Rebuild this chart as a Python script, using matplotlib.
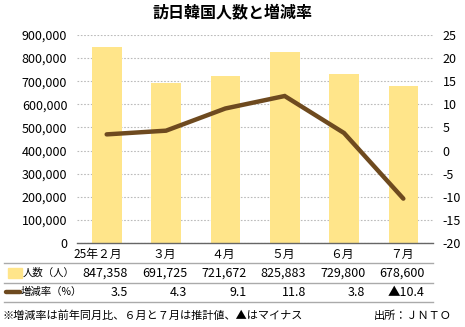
import matplotlib
matplotlib.use("Agg")
import matplotlib.pyplot as plt
import matplotlib.transforms as mtrans
from matplotlib.patches import Rectangle
from matplotlib.lines import Line2D
import numpy as np

categories = ["25年２月", "３月", "４月", "５月", "６月", "７月"]
visitors = [847358, 691725, 721672, 825883, 729800, 678600]
rates = [3.5, 4.3, 9.1, 11.8, 3.8, -10.4]
visitor_labels = ["847,358", "691,725", "721,672", "825,883", "729,800", "678,600"]
rate_labels = ["3.5", "4.3", "9.1", "11.8", "3.8", "▲10.4"]
left_ticks = [0, 100000, 200000, 300000, 400000, 500000, 600000, 700000, 800000, 900000]
right_ticks = [-20, -15, -10, -5, 0, 5, 10, 15, 20, 25]

NUMF = ["Noto Sans CJK JP", "DejaVu Sans"]
JPF = ["Noto Sans CJK JP", "DejaVu Sans"]
plt.rcParams['font.family'] = NUMF

BAR = "#FFE58A"
LINE = "#6E4A1F"
W, H = 465, 327
fig = plt.figure(figsize=(W / 100, H / 100), dpi=100)

def fx(px):
    return px / W

def fy(py):
    return 1 - py / H

ax = fig.add_axes([fx(77), fy(243), fx(433) - fx(77), fy(35) - fy(243)])
x = np.arange(len(categories))
ax.bar(x, visitors, width=0.5, color=BAR, zorder=2)
ax.set_xlim(-0.5, len(categories) - 0.5)
ax.set_ylim(0, 900000)
ax.set_yticks(left_ticks)
ax.set_yticklabels([f"{v:,}" for v in left_ticks], fontsize=9, family=NUMF)
ax.set_xticks([])
ax.tick_params(axis='y', length=0, pad=7)
for s in ["top", "right", "left"]:
    ax.spines[s].set_visible(False)
ax.spines["bottom"].set_color("#666666")
ax.spines["bottom"].set_linewidth(1.0)
ax.grid(axis='y', color="#BBBBBB", linestyle=(0, (1.5, 1.5)), linewidth=0.8, zorder=0)
ax.set_axisbelow(True)

ax2 = ax.twinx()
ax2.plot(x, rates, color=LINE, linewidth=3.2, solid_capstyle='round', solid_joinstyle='miter', zorder=5)
ax2.set_ylim(-20, 25)
ax2.set_yticks(right_ticks)
ax2.set_yticklabels([str(v) for v in right_ticks], fontsize=9, family=NUMF)
ax2.tick_params(axis='y', length=0, pad=7)
for s in ["top", "right", "left", "bottom"]:
    ax2.spines[s].set_visible(False)

fig.text(0.5, fy(13), "訪日韓国人数と増減率", ha='center', va='center', fontsize=11.5,
         fontweight='bold', family=JPF)

# table below
bt = mtrans.blended_transform_factory(ax.transData, fig.transFigure)
for i, c in enumerate(categories):
    off = -0.15 if i == 0 else -0.03
    fig.text(i + off, fy(254), c, transform=bt, ha='center', va='center', fontsize=8.5, family=NUMF)
    fig.text(i + 0.36, fy(273), visitor_labels[i], transform=bt, ha='right', va='center',
             fontsize=9, family=NUMF)
    fig.text(i + 0.36, fy(292), rate_labels[i], transform=bt, ha='right', va='center',
             fontsize=9, family=NUMF)

for py in [263, 282.5, 302]:
    fig.add_artist(Line2D([fx(4), fx(433)], [fy(py), fy(py)], color="#AAAAAA", linewidth=1.0))

fig.add_artist(Rectangle((fx(8), fy(278)), fx(22) - fx(8), fy(268) - fy(278), color=BAR,
                         transform=fig.transFigure))
fig.add_artist(Line2D([fx(6), fx(20)], [fy(292), fy(292)], color=LINE, linewidth=3.2,
                      solid_capstyle='round'))
fig.text(fx(23), fy(273), "人数（人）", ha='left', va='center', fontsize=7.5, family=JPF)
fig.text(fx(21), fy(292), "増減率（%）", ha='left', va='center', fontsize=7.5, family=JPF)

fig.text(fx(2), fy(316), "※増減率は前年同月比、６月と７月は推計値、▲はマイナス", ha='left', va='center',
         fontsize=8, family=JPF)
fig.text(fx(452), fy(316), "出所：ＪＮＴＯ", ha='right', va='center', fontsize=8, family=JPF)

fig.savefig("out.png", dpi=100)
